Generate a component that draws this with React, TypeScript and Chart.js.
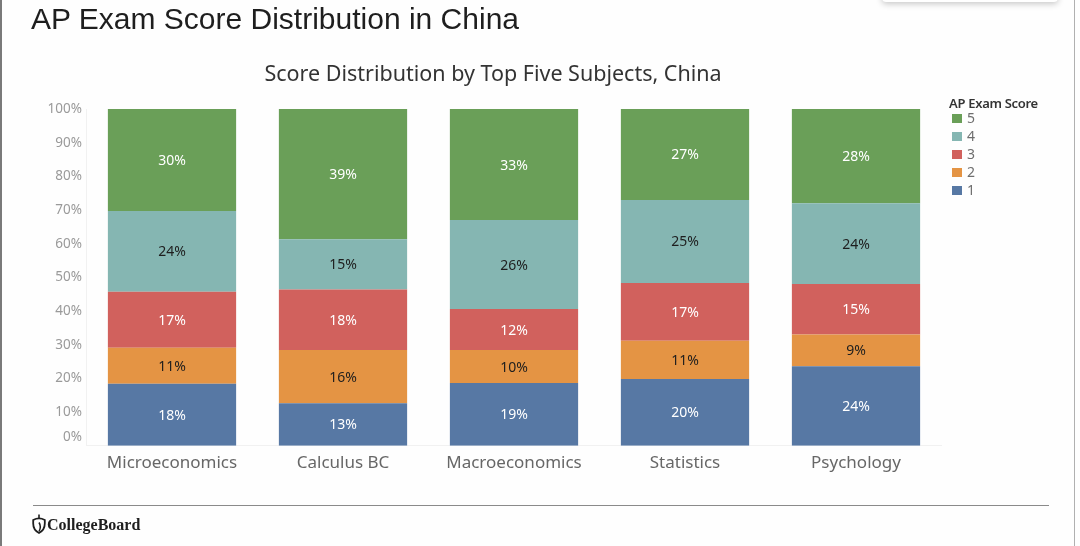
import React, { useEffect, useRef } from "react";
import { Chart, registerables } from "chart.js";

Chart.register(...registerables);

const subjects = ["Microeconomics", "Calculus BC", "Macroeconomics", "Statistics", "Psychology"];
const scoreNames = ["1", "2", "3", "4", "5"];
const score1 = [18.4, 12.6, 18.6, 19.8, 23.6];
const score2 = [10.7, 15.8, 9.8, 11.4, 9.4];
const score3 = [16.6, 18.0, 12.2, 17.1, 15.0];
const score4 = [24.0, 14.9, 26.4, 24.7, 24.0];
const score5 = [30.3, 38.7, 33.0, 27.0, 28.0];
const yTicks = [0, 10, 20, 30, 40, 50, 60, 70, 80, 90, 100];
const seriesColors = ["#5778a4", "#e49444", "#d1615d", "#85b6b2", "#6a9f58"];
const labelColors = ["#ffffff", "#1e1e1e", "#ffffff", "#1e1e1e", "#ffffff"];

const FONT = "'Noto Sans', 'Open Sans', sans-serif";

const segmentLabels = {
  id: "segmentLabels",
  afterDatasetsDraw(chart: any) {
    const ctx = chart.ctx;
    ctx.save();
    ctx.font = `14px ${FONT}`;
    ctx.textAlign = "center";
    ctx.textBaseline = "middle";
    chart.data.datasets.forEach((ds: any, di: number) => {
      const meta = chart.getDatasetMeta(di);
      meta.data.forEach((el: any, i: number) => {
        const v = ds.data[i] as number;
        ctx.fillStyle = labelColors[di];
        ctx.fillText(Math.round(v) + "%", el.x, (el.y + el.base) / 2 + 1);
      });
    });
    ctx.restore();
  },
};

const yTickLabels = {
  id: "yTickLabels",
  afterDraw(chart: any) {
    const ctx = chart.ctx;
    const s = chart.scales.y;
    ctx.save();
    ctx.font = `13.5px ${FONT}`;
    ctx.fillStyle = "#9a9a9a";
    ctx.textAlign = "right";
    ctx.textBaseline = "middle";
    yTicks.forEach((t) => {
      let y = s.getPixelForValue(t);
      if (t === 0) y -= 9;
      ctx.fillText(t + "%", 82, y);
    });
    ctx.restore();
  },
};

function ChartCanvas() {
  const ref = useRef<HTMLCanvasElement | null>(null);
  useEffect(() => {
    if (!ref.current) return;
    const series = [score1, score2, score3, score4, score5];
    const chart = new Chart(ref.current, {
      type: "bar",
      data: {
        labels: subjects,
        datasets: series.map((d, i) => ({
          label: scoreNames[i],
          data: d,
          backgroundColor: seriesColors[i],
          borderWidth: 0,
          categoryPercentage: 1,
          barPercentage: 0.75,
        })),
      },
      options: {
        responsive: false,
        animation: false,
        devicePixelRatio: 1,
        layout: { padding: { left: 0, right: 138.5, top: 109, bottom: 70.3 } },
        plugins: {
          legend: { display: false },
          title: { display: false },
          tooltip: { enabled: false },
        },
        scales: {
          x: {
            stacked: true,
            grid: { display: false, drawTicks: false },
            border: { color: "#f1f1f1" },
            ticks: { color: "#676767", font: { family: FONT, size: 17 }, padding: 7 },
            afterFit: (scale: any) => {
              scale.height = 30;
            },
          },
          y: {
            stacked: true,
            min: 0,
            max: 100,
            grid: { display: false, drawTicks: false },
            border: { color: "#f1f1f1" },
            ticks: { display: false, stepSize: 10 },
            afterFit: (scale: any) => {
              scale.width = 86.5;
            },
          },
        },
      },
      plugins: [segmentLabels, yTickLabels],
    });
    return () => chart.destroy();
  }, []);
  return (
    <canvas
      ref={ref}
      width={1080}
      height={546}
      style={{ position: "absolute", left: 0, top: 0, width: 1080, height: 546 }}
    />
  );
}

export default function App() {
  const legendOrder = [4, 3, 2, 1, 0];
  return (
    <div
      style={{
        position: "fixed",
        left: 0,
        top: 0,
        width: 1080,
        height: 546,
        background: "#fefefe",
        overflow: "hidden",
      }}
    >
      <ChartCanvas />
      {/* left and right frame lines */}
      <div style={{ position: "absolute", left: 0, top: 0, width: 2, height: 546, background: "#7a7a7a" }} />
      <div style={{ position: "absolute", left: 1074, top: 0, width: 1, height: 546, background: "#b0b0b0" }} />
      {/* top-right floating panel shadow */}
      <div
        style={{
          position: "absolute",
          left: 882,
          top: -40,
          width: 176,
          height: 42,
          background: "#ffffff",
          boxShadow: "0 2px 6px rgba(0,0,0,0.22)",
          borderRadius: 4,
        }}
      />
      <div
        style={{
          position: "absolute",
          left: 31,
          top: 3.6,
          fontFamily: "'Liberation Sans', Arial, sans-serif",
          fontSize: 30,
          lineHeight: "30px",
          color: "#1e1e1e",
          whiteSpace: "nowrap",
        }}
      >
        AP Exam Score Distribution in China
      </div>
      <div
        style={{
          position: "absolute",
          left: 193,
          width: 600,
          top: 62,
          textAlign: "center",
          fontFamily: FONT,
          fontSize: 21.5,
          lineHeight: "21.5px",
          color: "#333333",
          whiteSpace: "nowrap",
        }}
      >
        Score Distribution by Top Five Subjects, China
      </div>
      {/* legend */}
      <div
        style={{
          position: "absolute",
          left: 949,
          top: 96,
          fontFamily: FONT,
          fontSize: 13,
          lineHeight: "14px",
          fontWeight: 600,
          color: "#333333",
          whiteSpace: "nowrap",
          letterSpacing: -0.3,
        }}
      >
        AP Exam Score
      </div>
      {legendOrder.map((idx, row) => (
        <div key={idx} style={{ position: "absolute", left: 952, top: 114 + row * 18, height: 10 }}>
          <div
            style={{
              position: "absolute",
              left: 0,
              top: 0,
              width: 10,
              height: 9,
              background: seriesColors[idx],
            }}
          />
          <div
            style={{
              position: "absolute",
              left: 15,
              top: -4,
              fontFamily: FONT,
              fontSize: 14,
              lineHeight: "16px",
              color: "#6e6e6e",
            }}
          >
            {scoreNames[idx]}
          </div>
        </div>
      ))}
      {/* footer */}
      <div style={{ position: "absolute", left: 33, top: 505, width: 1016, height: 1, background: "#8a8a8a" }} />
      <svg
        style={{ position: "absolute", left: 32, top: 514 }}
        width="14"
        height="20"
        viewBox="0 0 14 20"
      >
        <path d="M7 0.5 L7 4" stroke="#1e1e1e" strokeWidth="1.6" fill="none" />
        <path
          d="M1.2 6 Q7 2.8 12.8 6 L12.8 9.5 Q12.8 16 7 19 Q1.2 16 1.2 9.5 Z"
          stroke="#1e1e1e"
          strokeWidth="1.8"
          fill="none"
        />
        <path d="M7 8.5 Q9.6 12.5 7 17.5" stroke="#1e1e1e" strokeWidth="1.5" fill="none" />
      </svg>
      <div
        style={{
          position: "absolute",
          left: 47,
          top: 516,
          fontFamily: "'Liberation Serif', 'DejaVu Serif', serif",
          fontWeight: 700,
          fontSize: 16,
          lineHeight: "18px",
          color: "#1e1e1e",
          whiteSpace: "nowrap",
        }}
      >
        CollegeBoard
      </div>
    </div>
  );
}
